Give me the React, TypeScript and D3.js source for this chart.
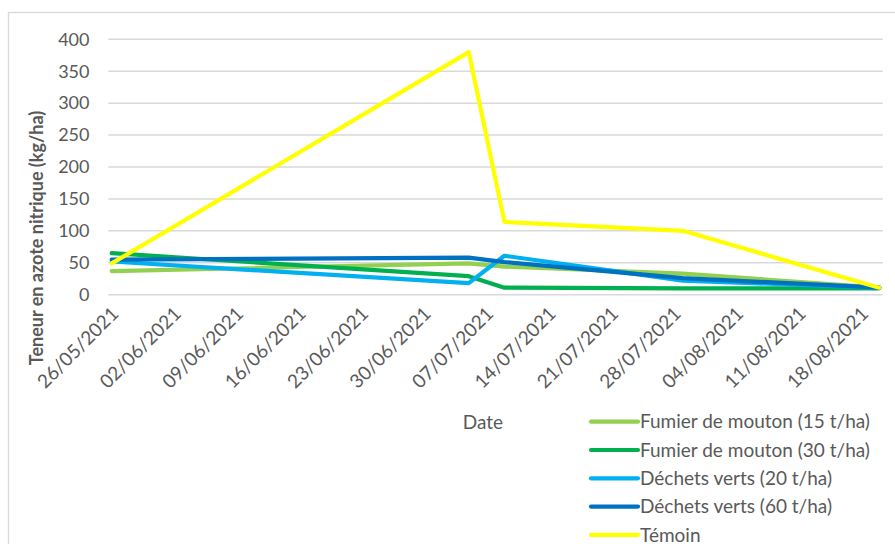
import React, { useEffect, useRef } from 'react';
import * as d3 from 'd3';

// sampling dates (dd/mm/yyyy)
const sampleDates = ['26/05/2021', '05/07/2021', '09/07/2021', '29/07/2021', '20/08/2021'];

// nitrate nitrogen content (kg/ha) per treatment
const fumier15 = [37, 49, 44, 33, 11];
const fumier30 = [65, 29, 11, 10, 10];
const dechets20 = [52, 18, 61, 22, 11];
const dechets60 = [55, 58, 51, 26, 11];
const temoin = [49, 380, 114, 100, 11];

const seriesNames = [
  'Fumier de mouton (15 t/ha)',
  'Fumier de mouton (30 t/ha)',
  'Déchets verts (20 t/ha)',
  'Déchets verts (60 t/ha)',
  'Témoin',
];
const seriesColors = ['#92D050', '#00B050', '#00B0F0', '#0070C0', '#FFFF00'];

const xTickLabels = [
  '26/05/2021', '02/06/2021', '09/06/2021', '16/06/2021', '23/06/2021',
  '30/06/2021', '07/07/2021', '14/07/2021', '21/07/2021', '28/07/2021',
  '04/08/2021', '11/08/2021', '18/08/2021',
];
const yTicks = [0, 50, 100, 150, 200, 250, 300, 350, 400];

const WIDTH = 895;
const HEIGHT = 544;
const FONT = 'Lato, "Open Sans", sans-serif';
const TEXT = '#595959';

const App: React.FC = () => {
  const svgRef = useRef<SVGSVGElement>(null);

  useEffect(() => {
    if (!svgRef.current) return;
    const svg = d3.select(svgRef.current);
    svg.selectAll('*').remove();

    const parse = d3.timeParse('%d/%m/%Y');
    const dates = sampleDates.map(d => parse(d) as Date);

    const plotLeft = 108.3;
    const plotRight = 882.7;

    const x = d3.scaleTime()
      .domain([dates[0], dates[dates.length - 1]])
      .range([111.7, 879.3]);

    const y = d3.scaleLinear()
      .domain([0, 400])
      .range([294.7, 39.3]);

    // chart area border
    svg.append('rect')
      .attr('x', 8.5)
      .attr('y', 12.5)
      .attr('width', 1000)
      .attr('height', 700)
      .attr('fill', 'white')
      .attr('stroke', '#d9d9d9')
      .attr('stroke-width', 1.3);

    // gridlines
    svg.append('g')
      .selectAll('line')
      .data(yTicks)
      .join('line')
      .attr('x1', plotLeft)
      .attr('x2', plotRight)
      .attr('y1', d => y(d))
      .attr('y2', d => y(d))
      .attr('stroke', '#d9d9d9')
      .attr('stroke-width', 1.5);

    // y tick labels
    svg.append('g')
      .selectAll('text')
      .data(yTicks)
      .join('text')
      .attr('x', 89.5)
      .attr('y', d => y(d))
      .attr('dy', '0.35em')
      .attr('text-anchor', 'end')
      .style('font-family', FONT)
      .style('font-size', '18px')
      .style('fill', TEXT)
      .text(d => d);

    // x tick labels, rotated
    svg.append('g')
      .selectAll('text')
      .data(xTickLabels)
      .join('text')
      .attr('transform', d => `translate(${x(parse(d) as Date) + 8},${315}) rotate(-45)`)
      .attr('text-anchor', 'end')
      .style('font-family', FONT)
      .style('font-size', '19px')
      .style('fill', TEXT)
      .text(d => d);

    // lines
    const allSeries = [fumier15, fumier30, dechets20, dechets60, temoin];
    const line = d3.line<number>()
      .x((_, i) => x(dates[i]))
      .y(d => y(d));

    svg.append('g')
      .selectAll('path')
      .data(allSeries)
      .join('path')
      .attr('d', d => line(d))
      .attr('fill', 'none')
      .attr('stroke', (_, i) => seriesColors[i])
      .attr('stroke-width', 4.2)
      .attr('stroke-linejoin', 'round')
      .attr('stroke-linecap', 'round');

    // axis titles
    svg.append('text')
      .attr('transform', 'translate(43,238) rotate(-90)')
      .attr('text-anchor', 'middle')
      .style('font-family', FONT)
      .style('font-size', '18px')
      .style('font-weight', 'bold')
      .style('fill', TEXT)
      .text('Teneur en azote nitrique (kg/ha)');

    svg.append('text')
      .attr('x', 483)
      .attr('y', 429)
      .attr('text-anchor', 'middle')
      .style('font-family', FONT)
      .style('font-size', '19px')
      .style('fill', TEXT)
      .text('Date');

    // legend
    const legend = svg.append('g');
    const rowY = (i: number) => 421.7 + i * 28.3;
    legend.selectAll('line')
      .data(seriesNames)
      .join('line')
      .attr('x1', 591)
      .attr('x2', 638)
      .attr('y1', (_, i) => rowY(i))
      .attr('y2', (_, i) => rowY(i))
      .attr('stroke', (_, i) => seriesColors[i])
      .attr('stroke-width', 4.2)
      .attr('stroke-linecap', 'round');

    legend.selectAll('text')
      .data(seriesNames)
      .join('text')
      .attr('x', 640)
      .attr('y', (_, i) => rowY(i))
      .attr('dy', '0.35em')
      .style('font-family', FONT)
      .style('font-size', '19px')
      .style('fill', TEXT)
      .text(d => d);
  }, []);

  return (
    <svg
      ref={svgRef}
      width={WIDTH}
      height={HEIGHT}
      style={{ position: 'absolute', left: 0, top: 0, display: 'block', background: 'white' }}
    />
  );
};

export default App;
